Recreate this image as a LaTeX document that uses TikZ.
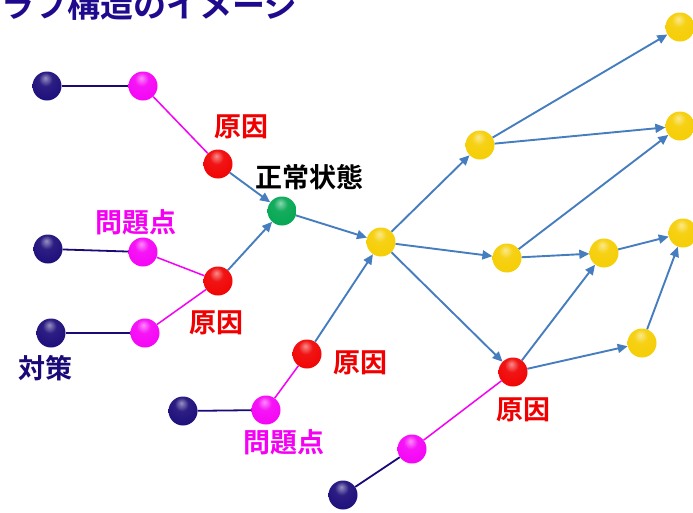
\documentclass[tikz,border=0pt]{standalone}
\usepackage{fontspec}
\newfontfamily\jp{Noto Sans CJK JP}[BoldFont={Noto Sans CJK JP Bold}]
\usetikzlibrary{arrows.meta, positioning}
\definecolor{navy}{RGB}{25,10,120}
\definecolor{titlenavy}{RGB}{30,10,140}
\definecolor{pink}{RGB}{245,0,245}
\definecolor{cause}{RGB}{240,0,0}
\definecolor{normal}{RGB}{0,165,80}
\definecolor{gold}{RGB}{245,205,0}
\definecolor{linkblue}{RGB}{70,125,190}
% 球の陰影
\makeatletter
\pgfdeclareradialshading[tikz@ball]{sphere}{\pgfqpoint{-3bp}{14bp}}{%
  color(0bp)=(tikz@ball!45!white);
  color(12bp)=(tikz@ball!92!white);
  color(40bp)=(tikz@ball);
  color(58bp)=(tikz@ball!80!black);
  color(70bp)=(tikz@ball!70!black)}
\makeatother
\tikzstyle{ball} = [circle, minimum size=29pt, inner sep=0pt]
\tikzstyle{navyball} = [ball, ball color=navy, shading=sphere]
\tikzstyle{pinkball} = [ball, ball color=pink, shading=sphere]
\tikzstyle{redball} = [ball, ball color=cause, shading=sphere]
\tikzstyle{greenball} = [ball, ball color=normal, shading=sphere]
\tikzstyle{goldball} = [ball, ball color=gold, shading=sphere]
\tikzstyle{arrow} = [draw=linkblue, line width=1.9pt, -{Triangle[length=10pt,width=9pt]}]
\tikzstyle{navyline} = [draw=navy, line width=1.8pt]
\tikzstyle{pinkline} = [draw=pink, line width=1.5pt]
\tikzstyle{lbl} = [font=\jp\bfseries\fontsize{27}{27}\selectfont, inner sep=0pt]

\begin{document}
\begin{tikzpicture}[x=1pt, y=-1pt]
\useasboundingbox (0,0) rectangle (693,512);
\clip (0,0) rectangle (693,512);

\node (title) [anchor=base east, inner sep=0pt, text=titlenavy, font=\jp\bfseries\fontsize{33}{33}\selectfont] at (298,17) {グラフ構造のイメージ};

% 対策・問題点・原因
\node (t1) [navyball] at (47,86) {};
\node (p1) [pinkball] at (143,86) {};
\node (c1) [redball]  at (218,164) {};
\node (t2) [navyball] at (48,249) {};
\node (p2) [pinkball] at (143,252) {};
\node (t3) [navyball] at (51,333) {};
\node (p3) [pinkball] at (145,333) {};
\node (c2) [redball]  at (218,281) {};
\node (t4) [navyball] at (183,411) {};
\node (p4) [pinkball] at (266,410) {};
\node (c3) [redball]  at (307,354) {};
\node (t5) [navyball] at (343,495) {};
\node (p5) [pinkball] at (412,449) {};
\node (c4) [redball]  at (513,372) {};

% 状態
\node (ok) [greenball] at (282,211) {};
\node (s0) [goldball] at (381,242) {};
\node (s1) [goldball] at (480,145) {};
\node (s2) [goldball] at (680,27) {};
\node (s3) [goldball] at (680,126) {};
\node (s4) [goldball] at (507,258) {};
\node (s5) [goldball] at (604,253) {};
\node (s6) [goldball] at (683,233) {};
\node (s7) [goldball] at (642,343) {};

% ラベル
\node (l1) [lbl, text=cause] at (241,127) {原因};
\node (l2) [lbl, text=black] at (309,177) {正常状態};
\node (l3) [lbl, text=pink]  at (136,222) {問題点};
\node (l4) [lbl, text=cause] at (216,323) {原因};
\node (l5) [lbl, text=navy]  at (45,368) {対策};
\node (l6) [lbl, text=cause] at (360,363) {原因};
\node (l7) [lbl, text=pink]  at (284,442) {問題点};
\node (l8) [lbl, text=cause] at (523,410) {原因};

% 線
\draw [navyline] (t1) -- (p1);
\draw [pinkline] (p1) -- (c1);
\draw [navyline] (t2) -- (p2);
\draw [pinkline] (p2) -- (c2);
\draw [navyline] (t3) -- (p3);
\draw [pinkline] (p3) -- (c2);
\draw [navyline] (t4) -- (p4);
\draw [pinkline] (p4) -- (c3);
\draw [navyline] (t5) -- (p5);
\draw [pinkline] (p5) -- (c4);

% 矢印
\draw [arrow] (c1) -- (ok);
\draw [arrow] (c2) -- (ok);
\draw [arrow] (ok) -- (s0);
\draw [arrow] (c3) -- (s0);
\draw [arrow] (s0) -- (s1);
\draw [arrow] (s1) -- (s2);
\draw [arrow] (s1) -- (s3);
\draw [arrow] (s0) -- (s4);
\draw [arrow] (s4) -- (s3);
\draw [arrow] (s4) -- (s5);
\draw [arrow] (s5) -- (s6);
\draw [arrow] (s0) -- (c4);
\draw [arrow] (c4) -- (s5);
\draw [arrow] (c4) -- (s7);
\draw [arrow] (s7) -- (s6);

\end{tikzpicture}
\end{document}
